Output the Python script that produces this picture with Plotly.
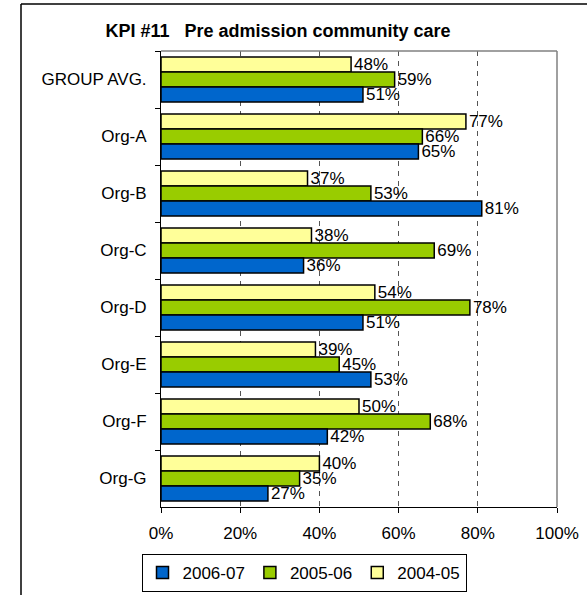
"""KPI #11 - pre admission community care, grouped horizontal bars"""

import plotly.graph_objects as go

categories = ["GROUP AVG.", "Org-A", "Org-B", "Org-C", "Org-D", "Org-E", "Org-F", "Org-G"]
kpi_2006_07 = [51, 65, 81, 36, 51, 53, 42, 27]
kpi_2005_06 = [59, 66, 53, 69, 78, 45, 68, 35]
kpi_2004_05 = [48, 77, 37, 38, 54, 39, 50, 40]
x_ticks = [0, 20, 40, 60, 80, 100]

FONT = "Arial, Liberation Sans, sans-serif"
SIZE = 17

# drawn top-to-bottom inside each group (y axis is reversed)
series = [
    ("2004-05", kpi_2004_05, "#FFFF99"),
    ("2005-06", kpi_2005_06, "#99CC00"),
    ("2006-07", kpi_2006_07, "#0066CC"),
]

fig = go.Figure()

for name, values, color in series:
    fig.add_trace(
        go.Bar(
            name=name,
            y=categories,
            x=values,
            orientation="h",
            marker=dict(color=color, line=dict(color="#000000", width=1.5)),
            text=[f"{v}%" for v in values],
            texttemplate="%{text}",
            textposition="outside",
            constraintext="none",
            textfont=dict(family=FONT, size=SIZE, color="#000000"),
            cliponaxis=False,
        )
    )

fig.update_layout(
    width=587,
    height=595,
    margin=dict(l=161, r=30, t=51, b=88),
    paper_bgcolor="#ffffff",
    plot_bgcolor="#ffffff",
    font=dict(family=FONT, size=SIZE, color="#000000"),
    barmode="group",
    bargap=0.21,
    bargroupgap=0,
    title=dict(
        text="<b>KPI #11   Pre admission community care</b>",
        x=278 / 587,
        xanchor="center",
        y=1 - 31 / 595,
        yanchor="middle",
        font=dict(family=FONT, size=18, color="#000000"),
    ),
    xaxis=dict(
        range=[0, 100],
        tickvals=x_ticks,
        ticktext=[f"{t}%" for t in x_ticks],
        showgrid=True,
        gridcolor="#555555",
        griddash="5px,5px",
        gridwidth=1,
        zeroline=False,
        showline=True,
        linecolor="#000000",
        linewidth=1,
        ticks="outside",
        ticklen=5,
        tickcolor="#000000",
        ticklabelstandoff=6,
        tickfont=dict(family=FONT, size=SIZE),
        automargin=False,
    ),
    yaxis=dict(
        categoryorder="array",
        categoryarray=categories,
        autorange="reversed",
        showgrid=False,
        showline=True,
        linecolor="#000000",
        linewidth=1,
        ticks="outside",
        tickson="boundaries",
        ticklen=5,
        tickcolor="#000000",
        ticklabelstandoff=10,
        tickfont=dict(family=FONT, size=SIZE),
        automargin=False,
    ),
    legend=dict(
        orientation="h",
        xref="container",
        yref="container",
        x=304 / 587,
        xanchor="center",
        y=1 - 573 / 595,
        yanchor="middle",
        bordercolor="#000000",
        borderwidth=1,
        bgcolor="#ffffff",
        font=dict(family=FONT, size=SIZE),
        itemwidth=30,
        traceorder="reversed",
    ),
    showlegend=True,
)

# gray top/right edges of the plot area
fig.add_shape(type="line", xref="paper", yref="paper", x0=0, x1=1, y0=1, y1=1,
              line=dict(color="#808080", width=1.5))
fig.add_shape(type="line", xref="paper", yref="paper", x0=1, x1=1, y0=0, y1=1,
              line=dict(color="#808080", width=1.5))

# outer chart frame (left and top edges visible)
fx = (21 - 161) / 396
fy = (507 - 4) / 456
fig.add_shape(type="line", xref="paper", yref="paper", x0=fx, x1=fx, y0=-0.3, y1=fy,
              line=dict(color="#000000", width=1.5))
fig.add_shape(type="line", xref="paper", yref="paper", x0=fx, x1=1.2, y0=fy, y1=fy,
              line=dict(color="#000000", width=1.5))

# drop the default page margin so the figure sits at the window origin
fig.write_html(
    "out.html",
    config={"displayModeBar": False},
    post_script="document.body.style.margin = '0';",
)
